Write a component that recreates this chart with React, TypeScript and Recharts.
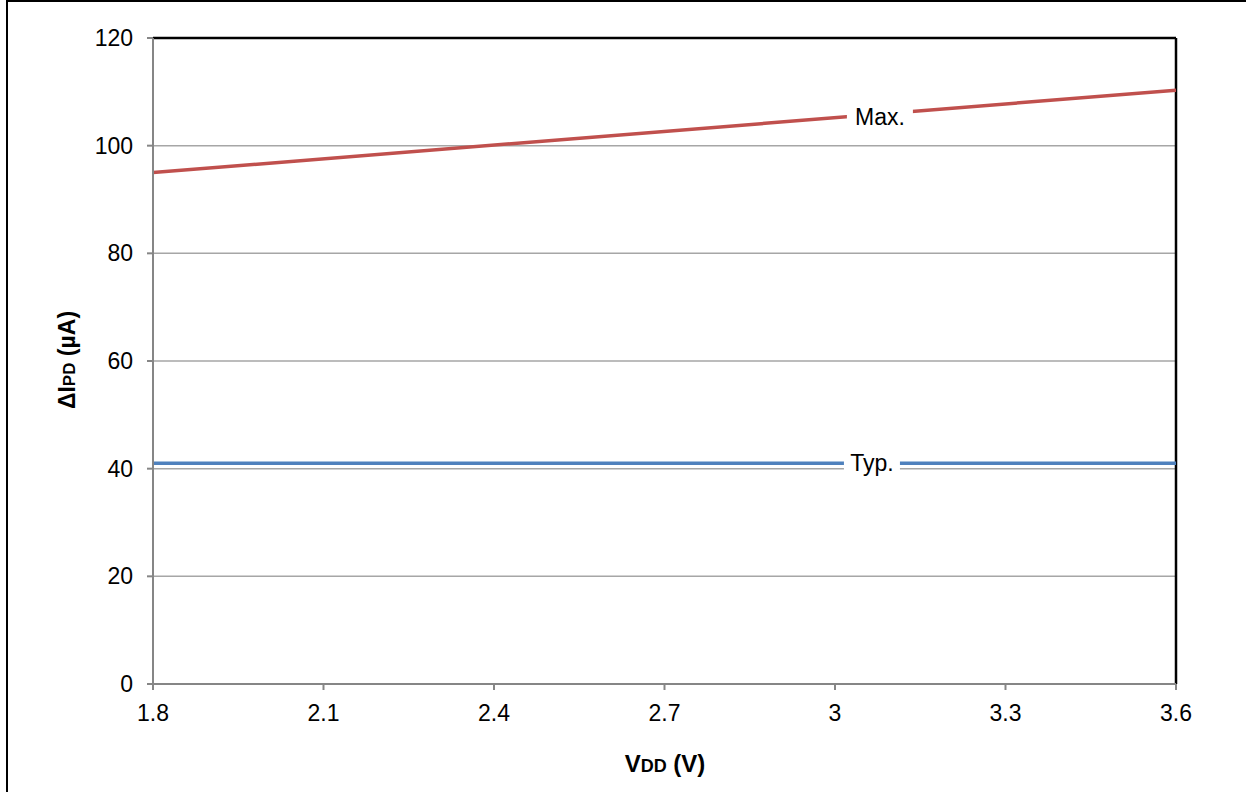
import React from 'react';
import { LineChart, Line, XAxis, YAxis, CartesianGrid, ReferenceLine, ReferenceDot } from 'recharts';

const vdd = [1.8, 3.6];
const maxCurrent = [95, 110.3];
const typCurrent = [41, 41];
const xTicks = [1.8, 2.1, 2.4, 2.7, 3.0, 3.3, 3.6];
const yTicks = [0, 20, 40, 60, 80, 100, 120];
const seriesLabels = [
  { name: 'Max.', x: 3.079, y: 105.3, w: 66 },
  { name: 'Typ.', x: 3.065, y: 41, w: 56 },
];

const maxData = vdd.map((v, i) => ({ x: v, y: maxCurrent[i] }));
const typData = vdd.map((v, i) => ({ x: v, y: typCurrent[i] }));

const FONT = '"Liberation Sans", Arial, sans-serif';

const labelShape = (name: string, w: number) => (props: any) => {
  const { cx, cy } = props;
  return (
    <g>
      <rect x={cx - w / 2} y={cy - 11} width={w} height={22} fill="#ffffff" />
      <text x={cx} y={cy + 8} textAnchor="middle" fontSize={23} fontFamily={FONT} fill="#000">
        {name}
      </text>
    </g>
  );
};

const YLabel = () => (
  <text
    x={0}
    y={0}
    transform="translate(75,360) rotate(-90)"
    textAnchor="middle"
    fontFamily={FONT}
    fontWeight="bold"
    fontSize={23}
    fill="#000"
  >
    ΔI<tspan fontSize={17}>PD</tspan> (µA)
  </text>
);

const XLabel = () => (
  <text x={665} y={772} textAnchor="middle" fontFamily={FONT} fontWeight="bold" fontSize={24} fill="#000">
    V<tspan fontSize={18}>DD</tspan> (V)
  </text>
);

export default function App() {
  return (
    <div style={{ position: 'absolute', left: 0, top: 0, width: 1246, height: 792, overflow: 'hidden', background: '#fff' }}>
      <div
        style={{
          position: 'absolute',
          left: 6,
          top: 0,
          width: 1400,
          height: 1000,
          border: '2.5px solid #000',
          boxSizing: 'border-box',
        }}
      />
      <div style={{ position: 'absolute', left: 0, top: 0 }}>
        <LineChart width={1246} height={792} margin={{ top: 38, right: 70, bottom: 0, left: 0 }}>
          <CartesianGrid vertical={false} stroke="#a6a6a6" strokeWidth={1.5} />
          <XAxis
            dataKey="x"
            type="number"
            domain={[1.8, 3.6]}
            ticks={xTicks}
            allowDataOverflow
            height={108}
            stroke="#868686"
            strokeWidth={2}
            tickSize={6}
            tickMargin={15}
            tick={{ fill: '#000', fontSize: 23, fontFamily: FONT }}
            tickFormatter={(v: number) => String(v)}
          />
          <YAxis
            type="number"
            domain={[0, 120]}
            ticks={yTicks}
            width={153}
            stroke="#868686"
            strokeWidth={2}
            tickSize={6}
            tickMargin={14}
            tick={{ fill: '#000', fontSize: 23, fontFamily: FONT }}
          />
          <ReferenceLine y={120} stroke="#000" strokeWidth={2.5} />
          <ReferenceLine x={3.6} stroke="#000" strokeWidth={2.5} />
          <Line data={maxData} dataKey="y" stroke="#c0504d" strokeWidth={3.5} dot={false} isAnimationActive={false} />
          <Line data={typData} dataKey="y" stroke="#4f81bd" strokeWidth={3.5} dot={false} isAnimationActive={false} />
          {seriesLabels.map((l) => (
            <ReferenceDot key={l.name} x={l.x} y={l.y} r={1} shape={labelShape(l.name, l.w)} />
          ))}
          <YLabel />
          <XLabel />
        </LineChart>
      </div>
    </div>
  );
}
